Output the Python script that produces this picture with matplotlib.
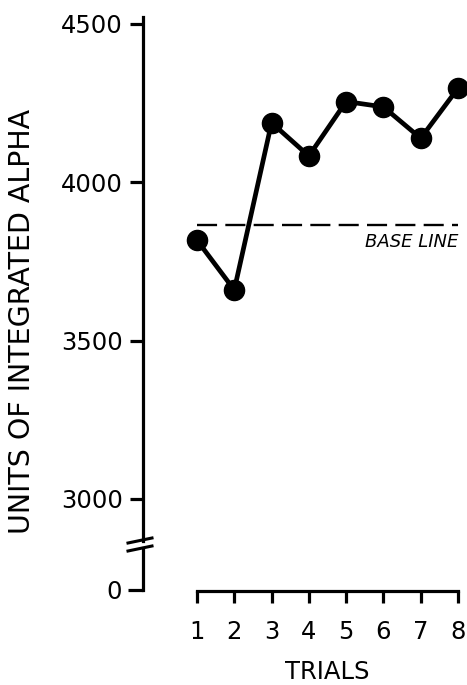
import matplotlib
matplotlib.use("Agg")
import matplotlib.pyplot as plt
from matplotlib.lines import Line2D

# data
trials = [1, 2, 3, 4, 5, 6, 7, 8]
alpha_units = [3817, 3660, 4188, 4083, 4255, 4238, 4139, 4297]
base_line = 3866
y_ticks = [3000, 3500, 4000, 4500]
x_ticks = [1, 2, 3, 4, 5, 6, 7, 8]

plt.rcParams['font.family'] = ['DejaVu Sans']

fig = plt.figure(figsize=(4.67, 6.85), dpi=100)

# upper part of the broken y axis
ax = fig.add_axes([0.3062, 0.2102, 0.6917, 0.7650])
# lower part (just the zero)
ax0 = fig.add_axes([0.3062, 0.1387, 0.6917, 0.0613])

xlim = (-0.448, 8.215)
for a in (ax, ax0):
    a.set_xlim(*xlim)
    a.patch.set_alpha(0)
    for s in ('top', 'right'):
        a.spines[s].set_visible(False)
    a.spines['left'].set_linewidth(2.3)

# main series
ax.plot(trials, alpha_units, color='black', lw=3.4, marker='o', ms=14.5,
        clip_on=False, zorder=3)
# base line
ax.plot([trials[0], trials[-1]], [base_line, base_line], color='black', lw=1.7,
        dashes=(8.5, 3.5), clip_on=False)
ax.text(trials[-1], 3811, 'BASE LINE', ha='right', va='center',
        fontsize=13, style='italic')

ax.set_ylim(2867, 4522)
ax.set_yticks(y_ticks)
ax.set_yticklabels([str(v) for v in y_ticks], fontsize=17.5)
ax.tick_params(axis='y', direction='out', length=9.4, width=2.3, pad=5)
ax.spines['bottom'].set_visible(False)
ax.set_xticks([])

ax0.set_ylim(0, 1)
ax0.set_yticks([0])
ax0.set_yticklabels(['0'], fontsize=17.5)
ax0.tick_params(axis='y', direction='out', length=10.5, width=2.3, pad=5)
ax0.spines['bottom'].set_bounds(x_ticks[0], x_ticks[-1])
ax0.spines['bottom'].set_linewidth(2.3)
ax0.spines['bottom'].set_position(('outward', 1))
ax0.set_xticks(x_ticks)
ax0.set_xticklabels([str(v) for v in x_ticks], fontsize=17.5)
ax0.tick_params(axis='x', direction='out', length=8.6, width=2.3, pad=12)

# break marks on the y axis
W, H = 467.0, 685.0
for y0 in (543, 551):
    fig.add_artist(Line2D([128 / W, 152 / W], [1 - y0 / H, 1 - (y0 - 5) / H],
                          color='black', lw=2.2))

fig.text(0.047, 0.5307, 'UNITS OF INTEGRATED ALPHA', rotation=90,
         ha='center', va='center', fontsize=20.5)
fig.text(327 / W, 1 - 679 / H, 'TRIALS', ha='center', va='baseline', fontsize=17.5)

fig.savefig('out.png', dpi=100)
